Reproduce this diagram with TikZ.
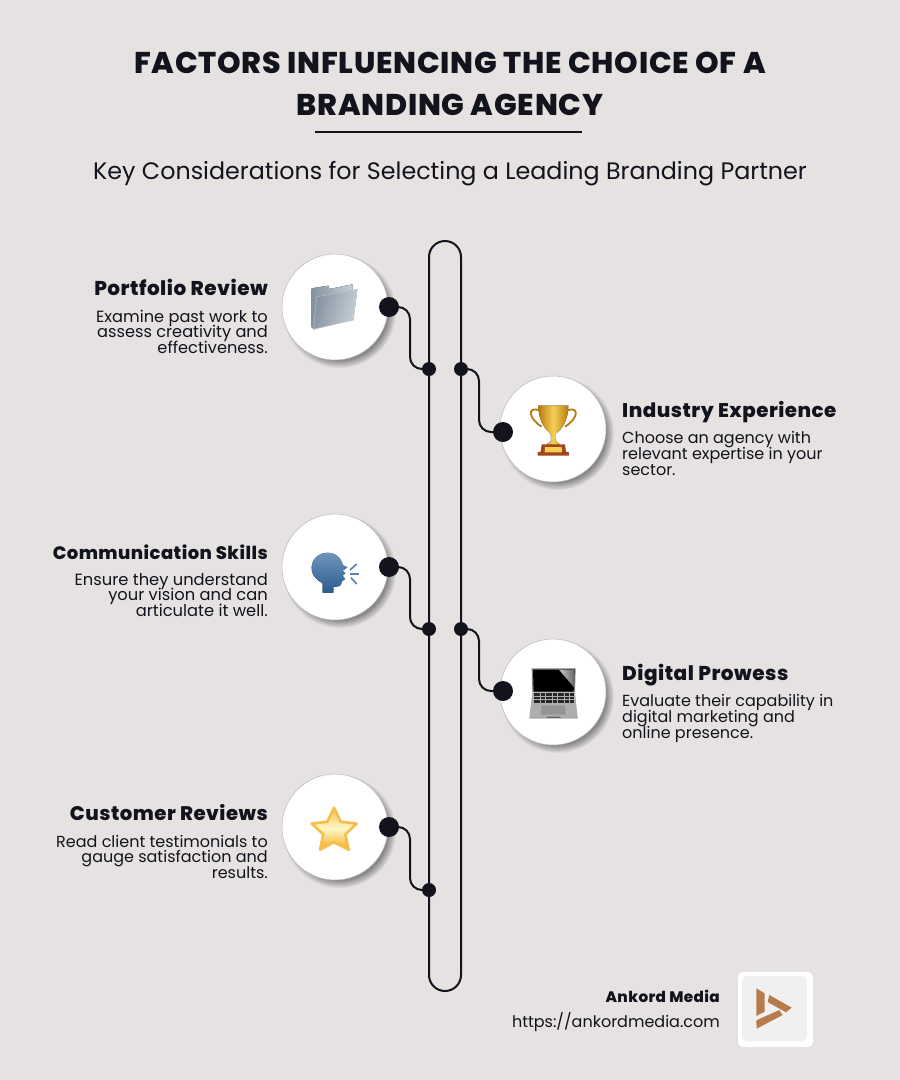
\documentclass[tikz,border=0pt]{standalone}
\usepackage{fontspec}
\setmainfont{Poppins}
\newfontfamily\heavyfont[LetterSpace=2.5]{Poppins ExtraBold}
\usetikzlibrary{shadows,fadings}

\definecolor{pagebg}{HTML}{E5E2E1}
\definecolor{ink}{HTML}{12131C}
\definecolor{logobrown}{HTML}{B87C4C}
\definecolor{headtop}{HTML}{7099BE}
\definecolor{headbot}{HTML}{2C5A8E}
\definecolor{goldA}{HTML}{B87A10}
\definecolor{goldB}{HTML}{F6CF55}
\definecolor{plinth}{HTML}{A0481C}
\definecolor{folderA}{HTML}{84929F}
\definecolor{folderB}{HTML}{C8D0D5}
\definecolor{starA}{HTML}{FFF8C8}
\definecolor{starB}{HTML}{F6AA1E}
\definecolor{starC}{HTML}{F6BE4A}

\tikzset{
  card/.style={circle,fill=white,draw=black!28,line width=0.5pt,minimum size=106pt,inner sep=0pt,
    circular drop shadow={shadow xshift=4pt,shadow yshift=-4pt,shadow scale=1.07,opacity=0.55,fill=black!75}},
  bigdot/.style={circle,fill=ink,minimum size=20pt,inner sep=0pt},
  tapdot/.style={circle,fill=ink,minimum size=14pt,inner sep=0pt},
  wire/.style={draw=ink,line width=2pt,rounded corners=12pt},
  headleft/.style={anchor=base east,inner sep=0pt,text=ink},
  headright/.style={anchor=base west,inner sep=0pt,text=ink},
  bodyleft/.style={anchor=north east,inner sep=0pt,align=right,text=ink},
  bodyright/.style={anchor=north west,inner sep=0pt,align=left,text=ink},
  zoomed/.style={x=0.3333pt,y=-0.3333pt},
}
\newcommand{\headsize}[1]{\fontsize{#1}{#1}\heavyfont}
\newcommand{\bodysize}[1]{\fontsize{#1}{15.6}\selectfont\lineskiplimit=-20pt\lineskip=0pt}

\begin{document}
\begin{tikzpicture}[x=1pt,y=-1pt]
  \fill[pagebg] (0,0) rectangle (900,1080);
  \useasboundingbox (0,0) rectangle (900,1080);

  % title block
  \node[font=\fontsize{30}{30}\heavyfont,text=ink] (titleA) at (450,63) {FACTORS INFLUENCING THE CHOICE OF A};
  \node[font=\fontsize{30}{30}\heavyfont,text=ink] (titleB) at (450,105) {BRANDING AGENCY};
  \coordinate (ruleL) at (315,132);
  \coordinate (ruleR) at (582,132);
  \draw[ink,line width=2pt] (ruleL) -- (ruleR);
  \node[font=\fontsize{23.8}{24}\selectfont,text=ink] (subtitle) at (450,174) {Key Considerations for Selecting a Leading Branding Partner};

  % track
  \node[draw=ink,line width=2pt,rounded corners=16pt,minimum width=32pt,minimum height=750pt,inner sep=0pt] (track) at (445,616) {};

  % cards
  \node[card] (cardPortfolio) at (335,307) {};
  \node[card] (cardIndustry) at (553,429) {};
  \node[card] (cardComm) at (335,567) {};
  \node[card] (cardDigital) at (553,692) {};
  \node[card] (cardReviews) at (335,827) {};

  % connectors
  \node[bigdot] (dotPortfolio) at (389,307) {};
  \node[bigdot] (dotIndustry) at (503,432) {};
  \node[bigdot] (dotComm) at (389,567) {};
  \node[bigdot] (dotDigital) at (503,691) {};
  \node[bigdot] (dotReviews) at (389,827) {};
  \node[tapdot] (tapPortfolio) at (429,369) {};
  \node[tapdot] (tapIndustry) at (461,369) {};
  \node[tapdot] (tapComm) at (429,629) {};
  \node[tapdot] (tapDigital) at (461,629) {};
  \node[tapdot] (tapReviews) at (429,890) {};
  \coordinate (bendPortfolio) at (410,340);
  \coordinate (bendIndustry) at (479,400);
  \coordinate (bendComm) at (410,600);
  \coordinate (bendDigital) at (479,660);
  \coordinate (bendReviews) at (410,860);
  \draw[wire] (dotPortfolio.center) -| (bendPortfolio) |- (tapPortfolio.center);
  \draw[wire] (tapIndustry.center) -| (bendIndustry) |- (dotIndustry.center);
  \draw[wire] (dotComm.center) -| (bendComm) |- (tapComm.center);
  \draw[wire] (tapDigital.center) -| (bendDigital) |- (dotDigital.center);
  \draw[wire] (dotReviews.center) -| (bendReviews) |- (tapReviews.center);

  % texts
  \node[headleft,font=\headsize{20}] (headPortfolio) at (268,295) {Portfolio Review};
  \node[bodyleft,font=\bodysize{16.2}] (bodyPortfolio) at (268,309.5) {Examine past work to\\assess creativity and\\effectiveness.};
  \node[headright,font=\headsize{19.8}] (headIndustry) at (622,417) {Industry Experience};
  \node[bodyright,font=\bodysize{16}] (bodyIndustry) at (622,431.5) {Choose an agency with\\relevant expertise in your\\sector.};
  \node[headleft,font=\headsize{18}] (headComm) at (268,559) {Communication Skills};
  \node[bodyleft,font=\bodysize{16.3}] (bodyComm) at (268,573) {Ensure they understand\\your vision and can\\articulate it well.};
  \node[headright,font=\headsize{20}] (headDigital) at (622,680) {Digital Prowess};
  \node[bodyright,font=\bodysize{16}] (bodyDigital) at (622,694.5) {Evaluate their capability in\\digital marketing and\\online presence.};
  \node[headleft,font=\headsize{19.7}] (headReviews) at (268,820) {Customer Reviews};
  \node[bodyleft,font=\bodysize{16}] (bodyReviews) at (268,835) {Read client testimonials to\\gauge satisfaction and\\results.};

  % folder
  \begin{scope}[shift={(270,240)},zoomed]
    \fill[left color=folderA,right color=folderB] (125,145) -- (175,137) -- (178,147) -- (247,133) -- (247,160) -- (132,268) -- (125,262) -- cycle;
    \fill[left color=folderA,right color=folderB,shading angle=75,draw=folderB!70!white,line width=0.4pt] (140,170) -- (262,148) -- (250,240) -- (130,268) -- cycle;
  \end{scope}

  % trophy
  \begin{scope}[shift={(490,365)},zoomed]
    \draw[draw=goldA,line width=1.8pt] (146,135) .. controls (112,125) and (115,160) .. (155,185);
    \draw[draw=goldA,line width=1.8pt] (234,135) .. controls (268,125) and (265,160) .. (225,185);
    \fill[left color=goldA,right color=goldA,middle color=goldB] (145,122) -- (235,122) .. controls (235,165) and (215,195) .. (198,205) -- (197,228) -- (210,238) -- (170,238) -- (183,228) -- (182,205) .. controls (165,195) and (145,165) .. (145,122) -- cycle;
    \fill[plinth] (155,238) -- (225,238) -- (228,260) -- (237,262) -- (237,272) -- (143,272) -- (143,262) -- (152,260) -- cycle;
    \fill[goldB] (165,246) -- (215,246) -- (216,262) -- (164,262) -- cycle;
  \end{scope}

  % speaking head
  \begin{scope}[shift={(270,505)},zoomed]
    \fill[top color=headtop,bottom color=headbot] (158,263) -- (158,235) .. controls (135,222) and (122,205) .. (125,185) .. controls (128,155) and (155,140) .. (180,144) .. controls (205,148) and (215,165) .. (218,180) -- (232,187) -- (218,197) -- (226,205) -- (218,212) -- (225,222) -- (215,230) .. controls (215,243) and (205,246) .. (190,245) -- (190,263) -- cycle;
    \draw[draw=headtop!70!headbot,line width=1.7pt] (240,195) -- (260,177);
    \draw[draw=headtop!70!headbot,line width=1.7pt] (240,206) -- (267,206);
    \draw[draw=headtop!70!headbot,line width=1.7pt] (243,218) -- (260,237);
  \end{scope}

  % laptop
  \begin{scope}[shift={(490,630)},zoomed]
    \fill[black!50] (125,115) -- (257,115) -- (255,187) -- (127,187) -- cycle;
    \fill[black] (129,119) -- (253,119) -- (251,185) -- (131,185) -- cycle;
    \fill[left color=black!20,right color=black!60] (207,119) -- (253,119) -- (252,172) -- cycle;
    \fill[black!32] (127,187) -- (255,187) -- (263,263) -- (118,263) -- cycle;
    \foreach \rowy in {194,204,215} {
      \draw[black!85,line width=2.4pt,dash pattern=on 2pt off 0.4pt] (131,\rowy) -- (251,\rowy);
    }
    \fill[black!42] (155,226) -- (225,226) -- (227,254) -- (153,254) -- cycle;
    \fill[black!60] (118,263) -- (170,263) -- (172,260) -- (210,260) -- (212,263) -- (263,263) -- (263,265) -- (118,265) -- cycle;
  \end{scope}

  % star
  \begin{scope}[shift={(270,765)},zoomed]
    \draw[draw=starC,line width=2.6pt,line join=round,top color=starC,bottom color=starB,middle color=starA] (192,128) -- (212,170) -- (260,176) -- (226,208) -- (236,254) -- (192,232) -- (150,254) -- (160,208) -- (125,176) -- (172,170) -- cycle;
  \end{scope}

  % footer
  \node[anchor=base east,inner sep=0pt,font=\fontsize{15.2}{16}\heavyfont,text=ink] (brandName) at (720,1002) {Ankord Media};
  \node[anchor=base east,inner sep=0pt,font=\fontsize{16}{16}\selectfont,text=ink] (brandUrl) at (720,1027) {https://ankordmedia.com};
  \fill[white,rounded corners=5pt] (738,972) rectangle (813,1047);
  \fill[black!6,rounded corners=5pt] (742,976) rectangle (807,1041);
  \begin{scope}[shift={(500,960)},zoomed]
    \fill[logobrown] (769,85) -- (794,100) -- (794,155) -- (769,168) -- cycle;
    \fill[logobrown] (808,105) -- (875,143) -- (858,157) -- (803,126) -- cycle;
    \fill[logobrown] (838,150) -- (848,165) -- (770,206) -- (769,181) -- cycle;
  \end{scope}
\end{tikzpicture}
\end{document}
